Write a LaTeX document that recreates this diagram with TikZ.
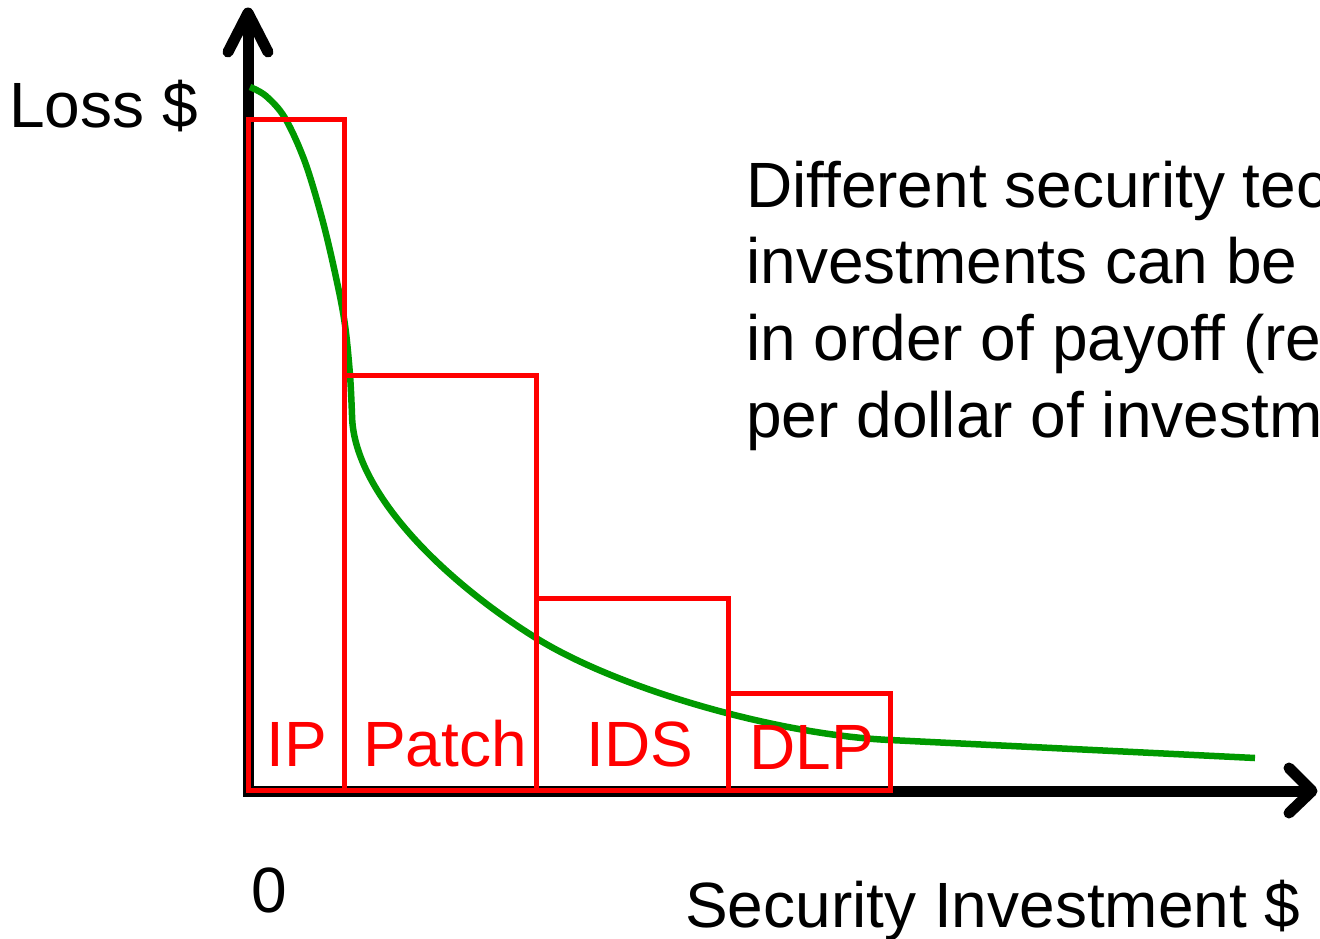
\documentclass[tikz,border=0pt]{standalone}
\usepackage{fontspec}
\setmainfont{Liberation Sans}
\definecolor{curvegreen}{RGB}{0,153,0}
\begin{document}
\begin{tikzpicture}[x=1pt,y=-1pt,
  axis/.style={line width=11pt,black},
  axishead/.style={line width=11pt,black,line cap=round,line join=round},
  bar/.style={line width=5pt,red},
  barlabel/.style={text=red,inner sep=0pt,anchor=base,font=\fontsize{64}{70}\selectfont},
  bigtext/.style={inner sep=0pt,anchor=base west,font=\fontsize{64}{70}\selectfont},
  losscurve/.style={line width=6.5pt,curvegreen}]
\useasboundingbox (0,0) rectangle (1320,938);
\clip (0,0) rectangle (1320,938);
% axes
\coordinate (O) at (248,791);
\coordinate (Ystart) at (248,796);
\coordinate (Xstart) at (243,791);
\coordinate (Ytip) at (248,13);
\coordinate (Xtip) at (1312,791);
\coordinate (Ya) at (228,52);
\coordinate (Yb) at (268,52);
\coordinate (Xa) at (1289,768);
\coordinate (Xb) at (1289,813);
\draw[axis] (Ystart) -- (Ytip);
\draw[axis] (Xstart) -- (Xtip);
\draw[axishead] (Ya) -- (Ytip) -- (Yb);
\draw[axishead] (Xa) -- (Xtip) -- (Xb);
% green curve
\draw[losscurve] plot[smooth,tension=0.55] coordinates {
  (250,87) (266,96) (285,118) (305,162) (323,222) (337,282) (345,325)
  (350,375) (352,415)}
  .. controls (353,490) and (440,578) .. (536,638)
  .. controls (620,690) and (780,735) .. (890,740)
  -- (1255,758);
% red bars
\draw[bar] (248,790) rectangle (344,119);
\draw[bar] (344,790) rectangle (536,375);
\draw[bar] (536,790) rectangle (728,598);
\draw[bar] (728,790) rectangle (890,693);
% bar labels
\node[barlabel] (ip) at (297,766) {IP};
\node[barlabel] (patch) at (445,766) {Patch};
\node[barlabel] (ids) at (640,766) {IDS};
\node[barlabel] (dlp) at (812,769) {DLP};
% texts
\node[bigtext] (loss) at (9,127) {Loss \$};
\node[inner sep=0pt,anchor=base,font=\fontsize{64}{70}\selectfont] (zero) at (269,912) {0};
\node[bigtext] (xlabel) at (685,927) {Security Investment \$};
\node[bigtext] (t1) at (746,207) {Different security tec};
\node[bigtext] (t2) at (746,283) {investments can be};
\node[bigtext] (t3) at (746,360) {in order of payoff (re};
\node[bigtext] (t4) at (746,437) {per dollar of investm};
\end{tikzpicture}
\end{document}
